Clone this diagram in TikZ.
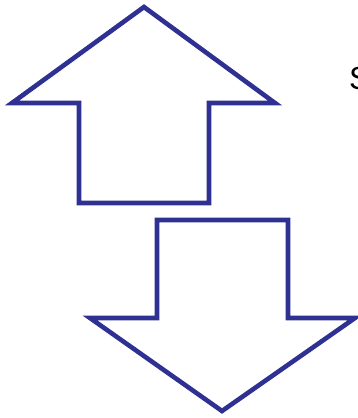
\documentclass[tikz,border=0pt]{standalone}
\usepackage{fontspec}
\setmainfont{Liberation Sans}
\definecolor{arrowblue}{HTML}{2E3192}
\begin{document}
\begin{tikzpicture}[x=1pt,y=-1pt,
  arrowshape/.style={draw=arrowblue,line width=4.6pt,miter limit=20,line join=miter,fill=white}]
\useasboundingbox (0,0) rectangle (358,418);
\draw[arrowshape] (144,7) -- (275,103) -- (209,103) -- (209,203) -- (79,203) -- (79,103) -- (12,103) -- cycle;
\draw[arrowshape] (157,220) -- (288,220) -- (288,318) -- (355,318) -- (222,411) -- (90,318) -- (157,318) -- cycle;
\node[anchor=west,inner sep=0pt,font=\fontsize{32}{36}\selectfont] (s) at (349,78) {S};
\end{tikzpicture}
\end{document}
